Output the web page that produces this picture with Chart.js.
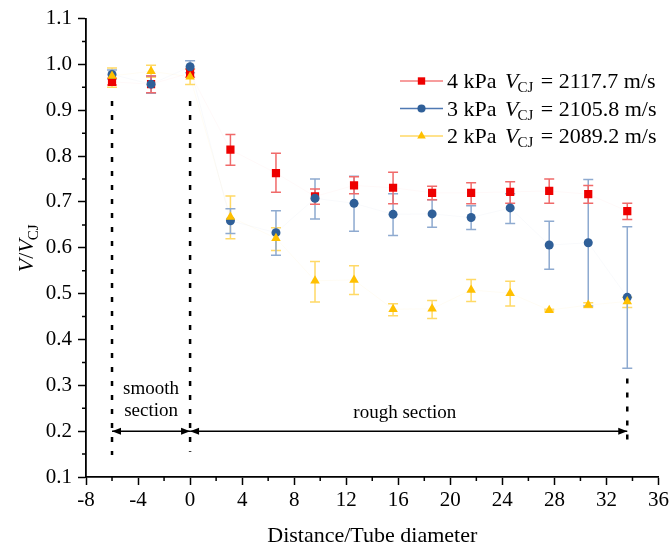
<!DOCTYPE html>
<html>
<head>
<meta charset="utf-8">
<title>V/VCJ vs distance</title>
<script src="https://cdn.jsdelivr.net/npm/chart.js@4.4.1/dist/chart.umd.min.js"></script>
<style>
  html, body { margin: 0; padding: 0; background: #fff; }
  #wrap { width: 672px; height: 554px; }
</style>
</head>
<body>
<div id="wrap"><canvas id="chart" width="672" height="554"></canvas></div>
<script>
// positions along the tube (in tube diameters)
const distance = [-6, -3, 0, 3.1, 6.6, 9.6, 12.6, 15.6, 18.6, 21.6, 24.6, 27.6, 30.6, 33.6];

// 4 kPa
const v4 = [0.962, 0.957, 0.981, 0.814, 0.763, 0.712, 0.736, 0.731, 0.720, 0.720, 0.722, 0.724, 0.717, 0.680];
const v4Low = [0.955, 0.938, 0.972, 0.780, 0.721, 0.695, 0.718, 0.696, 0.705, 0.696, 0.697, 0.697, 0.697, 0.662];
const v4High = [0.970, 0.975, 0.990, 0.847, 0.806, 0.728, 0.755, 0.765, 0.734, 0.742, 0.744, 0.750, 0.736, 0.697];

// 3 kPa
const v3 = [0.978, 0.957, 0.995, 0.659, 0.633, 0.708, 0.697, 0.673, 0.674, 0.666, 0.687, 0.606, 0.611, 0.492];
const v3Low = [0.968, 0.937, 0.982, 0.631, 0.584, 0.663, 0.636, 0.627, 0.645, 0.640, 0.653, 0.553, 0.473, 0.337];
const v3High = [0.988, 0.975, 1.008, 0.685, 0.681, 0.750, 0.756, 0.718, 0.705, 0.692, 0.718, 0.658, 0.749, 0.646];

// 2 kPa
const v2 = [0.975, 0.985, 0.973, 0.667, 0.621, 0.528, 0.530, 0.466, 0.467, 0.508, 0.501, 0.464, 0.475, 0.483];
const v2Low = [0.950, 0.972, 0.956, 0.620, 0.594, 0.482, 0.498, 0.452, 0.446, 0.483, 0.473, 0.462, 0.470, 0.470];
const v2High = [0.992, 0.998, 0.990, 0.713, 0.644, 0.570, 0.561, 0.478, 0.485, 0.531, 0.527, 0.466, 0.480, 0.492];

const seriesNames = ['4 kPa', '3 kPa', '2 kPa'];
const cjSpeeds = ['2117.7', '2105.8', '2089.2'];

const xTicks = [-8, -4, 0, 4, 8, 12, 16, 20, 24, 28, 32, 36];
const yTicks = [0.1, 0.2, 0.3, 0.4, 0.5, 0.6, 0.7, 0.8, 0.9, 1.0, 1.1];

// section markers
const smoothStart = -6, smoothEnd = 0, roughEnd = 33.6;

const SERIF = '"Liberation Serif", "Times New Roman", serif';

function points(ys) {
  return distance.map((d, i) => ({ x: d, y: ys[i] }));
}

// error bars, drawn under the markers
const errorBars = {
  id: 'errorBars',
  beforeDatasetsDraw(chart) {
    const { ctx, scales: { x, y } } = chart;
    chart.data.datasets.slice().reverse().forEach(ds => {
      ctx.save();
      ctx.strokeStyle = ds.errColor;
      ctx.lineWidth = 1.5;
      ds.data.forEach((p, i) => {
        const px = x.getPixelForValue(p.x);
        const lo = y.getPixelForValue(ds.errLow[i]);
        const hi = y.getPixelForValue(ds.errHigh[i]);
        ctx.beginPath();
        ctx.moveTo(px, lo); ctx.lineTo(px, hi);
        ctx.moveTo(px - 5, lo); ctx.lineTo(px + 5, lo);
        ctx.moveTo(px - 5, hi); ctx.lineTo(px + 5, hi);
        ctx.stroke();
      });
      ctx.restore();
    });
  }
};

// minor ticks, axis titles, section annotations, legend
const decorations = {
  id: 'decorations',
  afterDraw(chart) {
    const { ctx, chartArea: a, scales: { x, y } } = chart;
    ctx.save();

    // minor ticks
    ctx.strokeStyle = '#000';
    ctx.lineWidth = 1.5;
    ctx.beginPath();
    for (let v = -6; v < 36; v += 4) {
      const px = x.getPixelForValue(v);
      ctx.moveTo(px, a.bottom); ctx.lineTo(px, a.bottom + 4);
    }
    for (let k = 0; k < yTicks.length - 1; k++) {
      const py = y.getPixelForValue((yTicks[k] + yTicks[k + 1]) / 2);
      ctx.moveTo(a.left, py); ctx.lineTo(a.left - 4, py);
    }
    ctx.stroke();

    // x title
    ctx.fillStyle = '#000';
    ctx.font = '22px ' + SERIF;
    ctx.textAlign = 'center';
    ctx.textBaseline = 'middle';
    ctx.fillText('Distance/Tube diameter', (a.left + a.right) / 2, 536);

    // y title: V/V_CJ
    ctx.save();
    ctx.translate(26, (a.top + a.bottom) / 2);
    ctx.rotate(-Math.PI / 2);
    ctx.textAlign = 'left';
    ctx.textBaseline = 'alphabetic';
    const big = 'italic 22px ' + SERIF, reg = '22px ' + SERIF, sub = '15px ' + SERIF;
    ctx.font = big; const wV = ctx.measureText('V').width;
    ctx.font = reg; const wS = ctx.measureText('/').width;
    ctx.font = sub; const wC = ctx.measureText('CJ').width;
    let tx = -(wV * 2 + wS + wC) / 2;
    const base = 7;
    ctx.font = big; ctx.fillText('V', tx, base); tx += wV;
    ctx.font = reg; ctx.fillText('/', tx, base); tx += wS;
    ctx.font = big; ctx.fillText('V', tx, base); tx += wV;
    ctx.font = sub; ctx.fillText('CJ', tx - 1, base + 5);
    ctx.restore();

    // dashed section boundaries
    ctx.setLineDash([5, 9]);
    ctx.lineWidth = 2.5;
    ctx.strokeStyle = '#000';
    const dash = (xv, top, bottom) => {
      ctx.beginPath();
      ctx.moveTo(x.getPixelForValue(xv), y.getPixelForValue(top));
      ctx.lineTo(x.getPixelForValue(xv), y.getPixelForValue(bottom));
      ctx.stroke();
    };
    dash(smoothStart, 0.92, 0.148);
    dash(smoothEnd, 0.92, 0.155);
    dash(roughEnd, 0.315, 0.165);
    ctx.setLineDash([]);

    // double arrows at 0.2
    const ay = y.getPixelForValue(0.2);
    const head = (px, dir) => {
      ctx.beginPath();
      ctx.moveTo(px, ay);
      ctx.lineTo(px - dir * 9, ay - 3.5);
      ctx.lineTo(px - dir * 9, ay + 3.5);
      ctx.closePath();
      ctx.fill();
    };
    const arrow = (x0, x1) => {
      const p0 = x.getPixelForValue(x0), p1 = x.getPixelForValue(x1);
      ctx.lineWidth = 1.5;
      ctx.beginPath(); ctx.moveTo(p0, ay); ctx.lineTo(p1, ay); ctx.stroke();
      head(p0, -1); head(p1, 1);
    };
    arrow(smoothStart, smoothEnd);
    arrow(smoothEnd, roughEnd);

    ctx.font = '19px ' + SERIF;
    ctx.textAlign = 'center';
    ctx.textBaseline = 'middle';
    const sx = x.getPixelForValue((smoothStart + smoothEnd) / 2);
    ctx.fillText('smooth', sx, y.getPixelForValue(0.293));
    ctx.fillText('section', sx, y.getPixelForValue(0.243));
    ctx.fillText('rough section', x.getPixelForValue(16.5), y.getPixelForValue(0.239));

    // legend
    const rows = [81, 108.5, 136];
    chart.data.datasets.forEach((ds, i) => {
      const ly = rows[i];
      ctx.strokeStyle = ds.legendLine;
      ctx.lineWidth = 1.5;
      ctx.beginPath(); ctx.moveTo(400, ly); ctx.lineTo(443, ly); ctx.stroke();
      ctx.fillStyle = ds.backgroundColor;
      Chart.helpers.drawPoint(ctx, {
        pointStyle: ds.pointStyle, radius: ds.pointRadius * 0.9, borderWidth: 0, rotation: 0
      }, 421.5, ly);
      ctx.fillStyle = '#000';
      ctx.textAlign = 'left';
      ctx.textBaseline = 'alphabetic';
      const bl = ly + 7;
      let lx = 447;
      ctx.font = '22px ' + SERIF;
      ctx.fillText(seriesNames[i], lx, bl);
      lx = 505;
      ctx.font = 'italic 22px ' + SERIF;
      ctx.fillText('V', lx, bl);
      lx += ctx.measureText('V').width;
      ctx.font = '15px ' + SERIF;
      ctx.fillText('CJ', lx - 1, bl + 4);
      lx += ctx.measureText('CJ').width + 1;
      ctx.font = '22px ' + SERIF;
      ctx.fillText(' = ' + cjSpeeds[i] + ' m/s', lx, bl);
    });

    ctx.restore();
  }
};

function makeSet(label, ys, lo, hi, opts) {
  return Object.assign({
    label: label,
    data: points(ys),
    errLow: lo,
    errHigh: hi,
    showLine: true,
    borderWidth: 1,
    pointBorderWidth: 0
  }, opts);
}

const datasets = [
  makeSet('4 kPa', v4, v4Low, v4High, {
    order: 3,
    pointStyle: 'rect', pointRadius: 5.8,
    backgroundColor: '#ee0000', pointBackgroundColor: '#ee0000', pointBorderColor: '#ee0000',
    borderColor: 'rgba(255,80,80,0.035)',
    errColor: '#f06a6a', legendLine: '#f47c7c'
  }),
  makeSet('3 kPa', v3, v3Low, v3High, {
    order: 2,
    pointStyle: 'circle', pointRadius: 4.5,
    backgroundColor: '#2f5f98', pointBackgroundColor: '#2f5f98', pointBorderColor: '#2f5f98',
    borderColor: 'rgba(60,100,160,0.03)',
    errColor: '#8eaad0', legendLine: '#4f79b3'
  }),
  makeSet('2 kPa', v2, v2Low, v2High, {
    order: 1,
    pointStyle: 'triangle', pointRadius: 5.5,
    backgroundColor: '#ffc000', pointBackgroundColor: '#ffc000', pointBorderColor: '#ffc000',
    borderColor: 'rgba(255,200,60,0.06)',
    errColor: '#ffd966', legendLine: '#ffd966'
  })
];

Chart.defaults.color = '#000';
Chart.defaults.font.family = SERIF;

new Chart(document.getElementById('chart'), {
  type: 'scatter',
  data: { datasets: datasets },
  options: {
    responsive: false,
    animation: false,
    devicePixelRatio: 1,
    layout: { padding: { left: 0, top: 16, right: 13, bottom: 0 } },
    plugins: {
      legend: { display: false },
      tooltip: { enabled: false }
    },
    scales: {
      x: {
        type: 'linear',
        min: xTicks[0],
        max: xTicks[xTicks.length - 1],
        afterFit: s => { s.height = 77; },
        afterBuildTicks: s => { s.ticks = xTicks.map(v => ({ value: v })); },
        ticks: { font: { size: 21 }, color: '#000', padding: 3, maxRotation: 0,
                 callback: v => String(v) },
        grid: { drawOnChartArea: false, tickLength: 8, tickColor: '#000', tickWidth: 1.5 },
        border: { display: true, color: '#000', width: 1.8 }
      },
      y: {
        type: 'linear',
        min: yTicks[0],
        max: yTicks[yTicks.length - 1],
        afterFit: s => { s.width = 86; },
        afterBuildTicks: s => { s.ticks = yTicks.map(v => ({ value: v })); },
        ticks: { font: { size: 21 }, color: '#000', padding: 6,
                 callback: v => Number(v).toFixed(1) },
        grid: { drawOnChartArea: false, tickLength: 8, tickColor: '#000', tickWidth: 1.5 },
        border: { display: true, color: '#000', width: 1.8 }
      }
    }
  },
  plugins: [errorBars, decorations]
});
</script>
</body>
</html>
